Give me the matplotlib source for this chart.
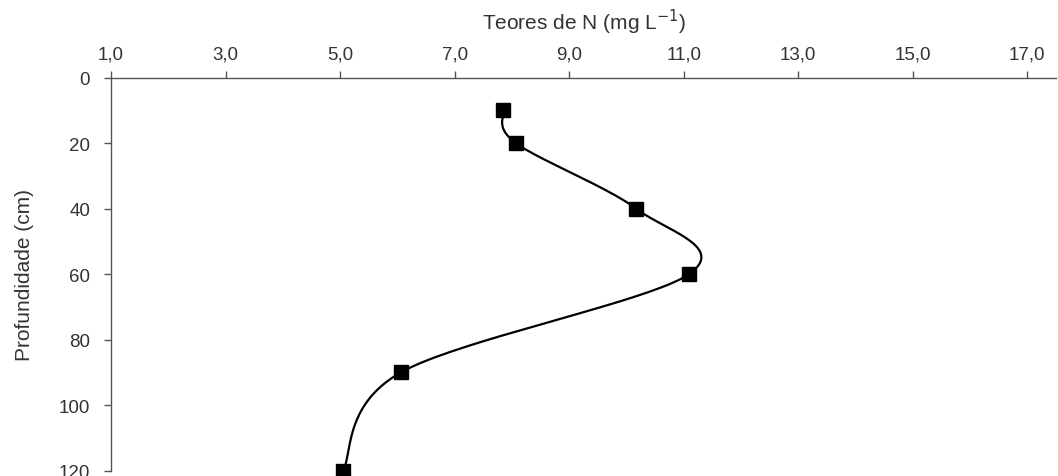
import numpy as np
import matplotlib.pyplot as plt

# Teores de N por profundidade
teores_n = [7.85, 8.07, 10.17, 11.09, 6.06, 5.05]
profundidade = [10, 20, 40, 60, 90, 120]
xticks = [1, 3, 5, 7, 9, 11, 13, 15, 17]
yticks = [0, 20, 40, 60, 80, 100, 120]


def suavizar(xs, ys, n=40):
    # curva suave tipo Excel (Catmull-Rom)
    px = np.array(xs, dtype=float)
    py = np.array(ys, dtype=float)
    px = np.concatenate([[px[0]], px, [px[-1]]])
    py = np.concatenate([[py[0]], py, [py[-1]]])
    cx, cy = [], []
    t = np.linspace(0, 1, n)
    for i in range(1, len(px) - 2):
        p0, p1, p2, p3 = px[i - 1], px[i], px[i + 1], px[i + 2]
        q0, q1, q2, q3 = py[i - 1], py[i], py[i + 1], py[i + 2]
        b1x, b1y = p1 + (p2 - p0) / 6, q1 + (q2 - q0) / 6
        b2x, b2y = p2 - (p3 - p1) / 6, q2 - (q3 - q1) / 6
        cx.extend((1 - t) ** 3 * p1 + 3 * (1 - t) ** 2 * t * b1x + 3 * (1 - t) * t ** 2 * b2x + t ** 3 * p2)
        cy.extend((1 - t) ** 3 * q1 + 3 * (1 - t) ** 2 * t * b1y + 3 * (1 - t) * t ** 2 * b2y + t ** 3 * q2)
    return cx, cy


plt.rcParams['font.family'] = ['Liberation Sans', 'DejaVu Sans']
cor_texto = '#333333'
cor_eixo = '#555555'

fig = plt.figure(figsize=(10.58, 4.77), dpi=100)
ax = fig.add_axes([111 / 1058, 1 - 471.7 / 477, (1056 - 111) / 1058, (471.7 - 78.7) / 477])

sx, sy = suavizar(teores_n, profundidade)
ax.plot(sx, sy, color='black', lw=1.6, zorder=2)
ax.plot(teores_n, profundidade, ls='none', marker='s', ms=10.5, color='black', zorder=3, clip_on=False)

ax.set_xlim(1, 17.5)
ax.set_ylim(120, 0)
ax.xaxis.tick_top()
ax.xaxis.set_label_position('top')
ax.set_xticks(xticks)
ax.set_xticklabels([f"{v:.1f}".replace('.', ',') for v in xticks])
ax.set_yticks(yticks)

for s in ['right', 'bottom']:
    ax.spines[s].set_visible(False)
for s in ['top', 'left']:
    ax.spines[s].set_color(cor_eixo)
    ax.spines[s].set_linewidth(1.0)

ax.tick_params(axis='both', direction='out', length=5, width=1, color=cor_eixo,
               labelsize=13.5, labelcolor=cor_texto)
ax.tick_params(axis='x', pad=6)
ax.tick_params(axis='y', pad=10)

ax.set_xlabel('Teores de N (mg L$^{-1}$)', fontsize=15, color=cor_texto, labelpad=12)
ax.set_ylabel('Profundidade (cm)', fontsize=15, color=cor_texto, labelpad=18)

fig.savefig('out.png', dpi=100)
